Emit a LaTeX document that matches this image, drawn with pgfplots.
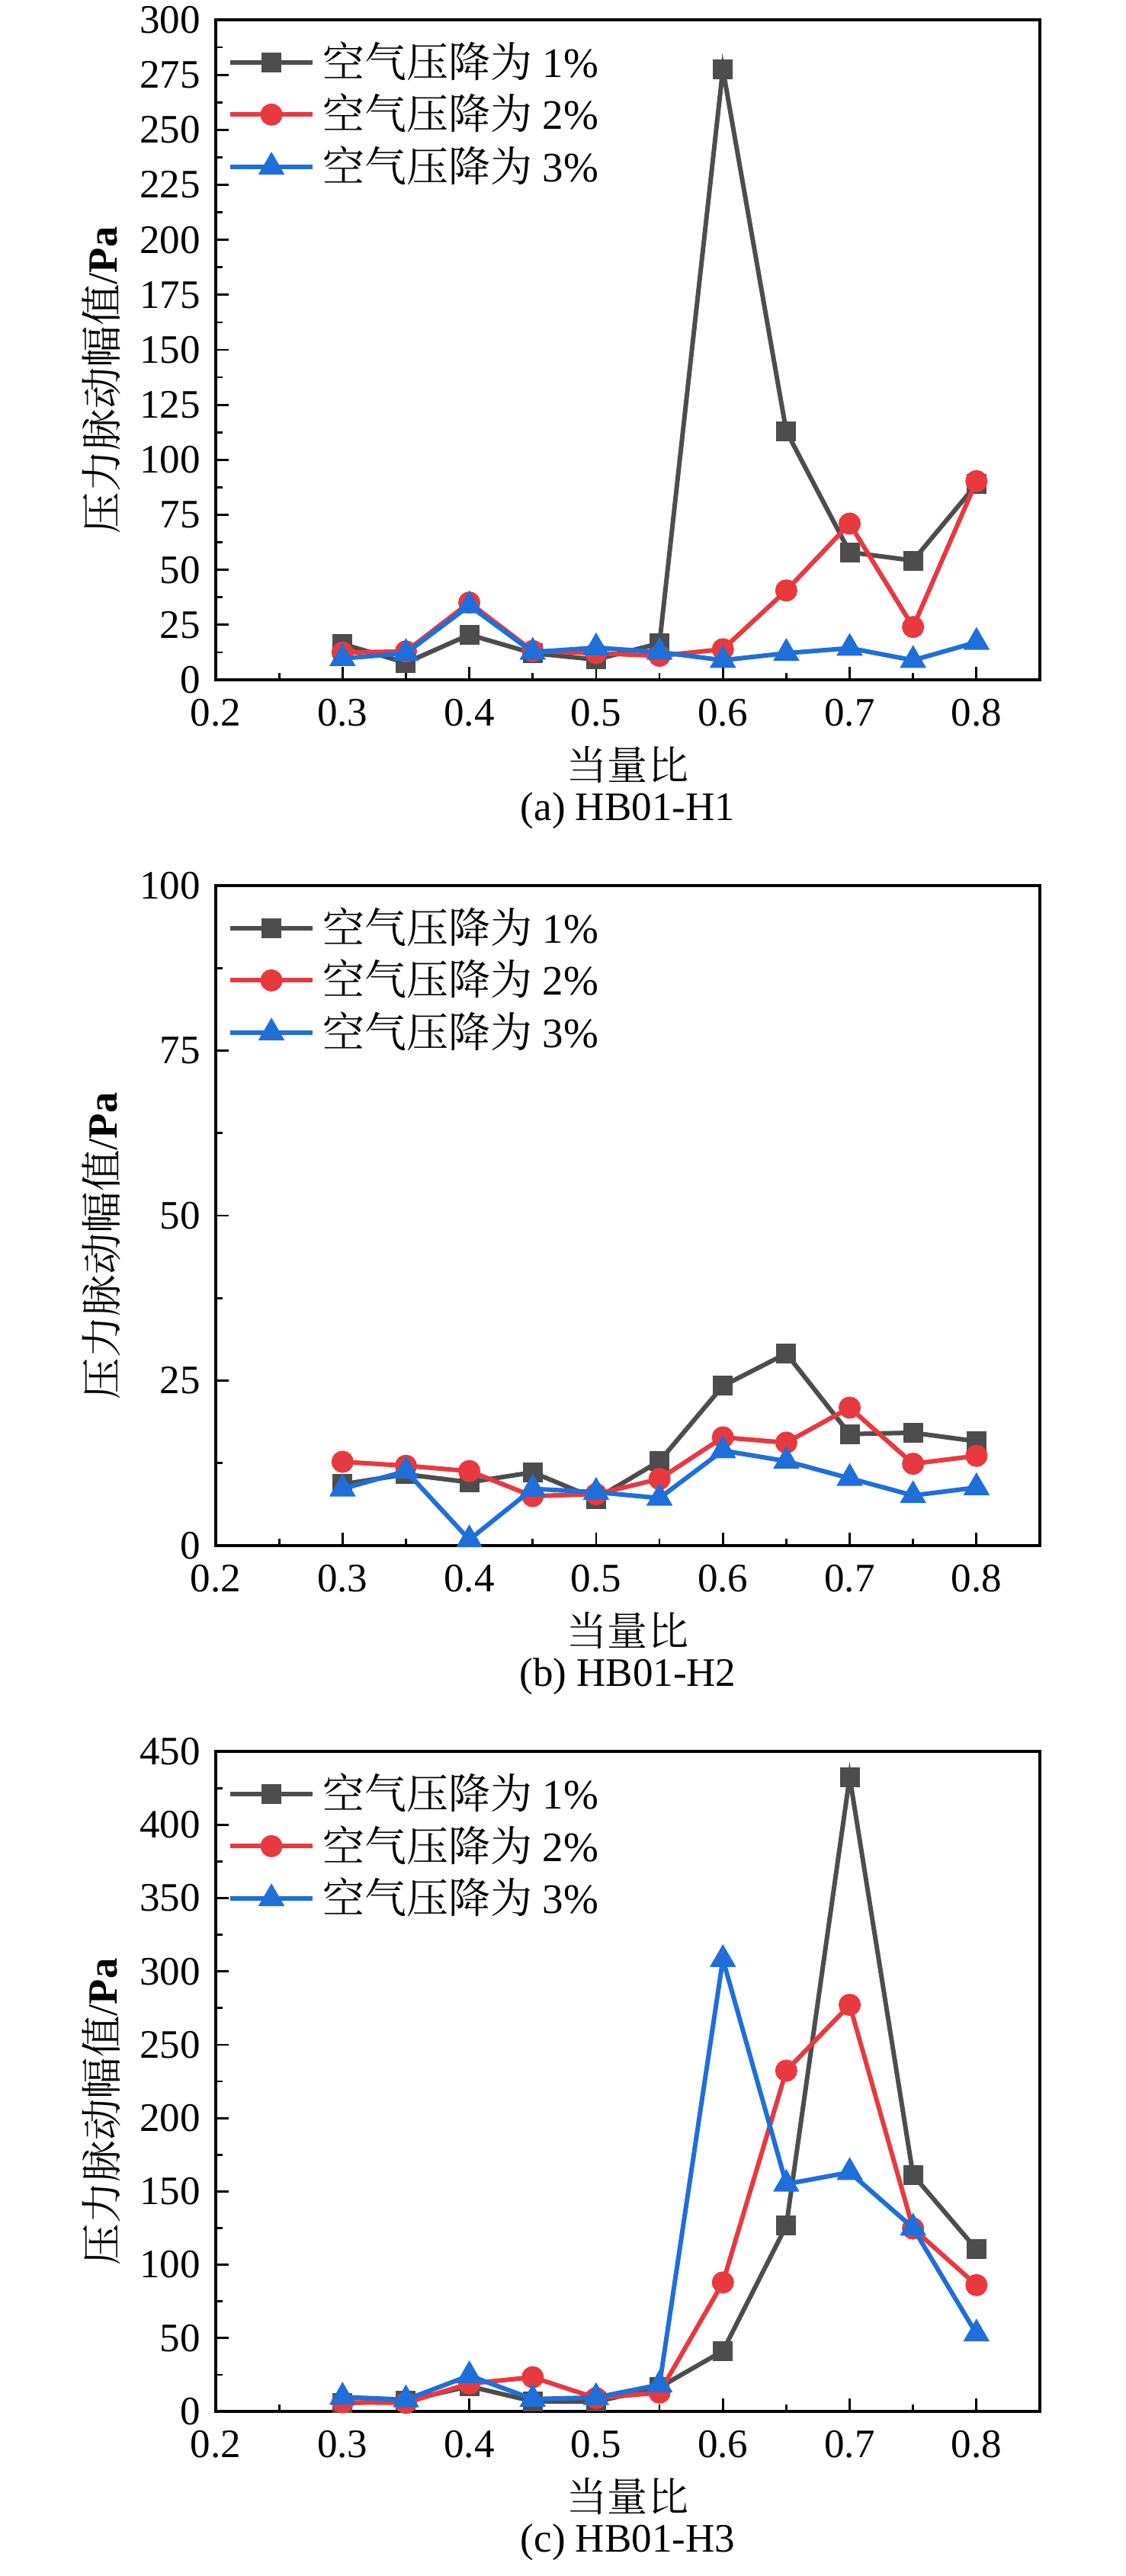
\documentclass[border=0pt]{standalone}
\usepackage{fontspec}
\setmainfont{Liberation Serif}
\newfontfamily\cjk{Noto Serif CJK SC}
\usepackage{pgfplots}
\pgfplotsset{compat=1.18}
\definecolor{cgray}{HTML}{4D4D4D}
\definecolor{cred}{HTML}{E8393F}
\definecolor{cblue}{HTML}{1E6FD9}
\newcommand{\ylab}{\node[rotate=90, anchor=center, inner sep=0pt, font=\fontsize{10.9}{12}\selectfont] at (axis description cs:-0.1388,0.4538) {{\cjk 压力脉动幅值}/\textbf{Pa}};}
\pgfplotsset{
  myax/.style={
    scale only axis, width=216.2pt, height=173.2pt,
    xmin=0.2, xmax=0.85, ymin=0, clip mode=individual,
    xtick={0.2,0.3,0.4,0.5,0.6,0.7,0.8},
    xticklabels={0.2,0.3,0.4,0.5,0.6,0.7,0.8},
    minor x tick num=1, minor y tick num=1,
    tick align=inside, xtick pos=left, ytick pos=left,
    major tick length=3.4pt, minor tick length=1.8pt,
    axis line style={line width=0.66pt},
    every tick/.style={black, line width=0.55pt},
    /pgf/number format/assume math mode=true,
    tick label style={font=\fontsize{10.6}{12}\selectfont},
    xticklabel style={yshift=-1.5pt},
    yticklabel style={xshift=-0.5pt},
    every axis x label/.style={at={(axis description cs:0.5,0)}, yshift=-22.2pt, anchor=center, inner sep=0pt, font=\fontsize{10.6}{12}\selectfont},
    xlabel={{\cjk 当量比}},
    legend style={at={(axis description cs:0,1)}, anchor=north west, draw=none, fill=none,
      xshift=2pt, yshift=-2.5pt, font=\fontsize{11}{13}\selectfont, row sep=-1.1pt,
      inner sep=1pt},
    legend cell align=left,
    legend image code/.code={\draw[mark repeat=2,mark phase=2] plot coordinates {(0cm,0cm) (0.38cm,0cm) (0.76cm,0cm)};},
  },
  s1/.style={color=cgray, line width=1.2pt, mark=square*, mark size=2pt, mark options={solid}},
  s2/.style={color=cred, line width=1.2pt, mark=*, mark size=2.3pt, mark options={solid}},
  s3/.style={color=cblue, line width=1.2pt, mark=triangle*, mark size=2.8pt, mark options={solid}},
}
\begin{document}
\begin{tikzpicture}
\path[use as bounding box] (-56.6pt,178.4pt) rectangle (238.6pt,-497.6pt);
% Panel (a)
\begin{axis}[myax, at={(0,0)}, anchor=south west, ymax=300,
  ytick={0,25,50,75,100,125,150,175,200,225,250,275,300}]
\addplot[s1] coordinates {(0.3,16.3) (0.35,7.7) (0.4,20.5) (0.45,12.1) (0.5,9.2) (0.55,16.6) (0.6,277.5) (0.65,113) (0.7,58) (0.75,54.2) (0.8,88.9)};
\addlegendentry{{\cjk 空气压降为} 1\%}
\addplot[s2] coordinates {(0.3,12.4) (0.35,12.9) (0.4,35.1) (0.45,13.1) (0.5,12.1) (0.55,10.9) (0.6,13.9) (0.65,40.6) (0.7,71) (0.75,24) (0.8,90.3)};
\addlegendentry{{\cjk 空气压降为} 2\%}
\addplot[s3] coordinates {(0.3,9.7) (0.35,12.1) (0.4,33.7) (0.45,12.6) (0.5,14.6) (0.55,12.6) (0.6,8.9) (0.65,12.1) (0.7,14.4) (0.75,8.9) (0.8,17.1)};
\addlegendentry{{\cjk 空气压降为} 3\%}
\ylab
\node[font=\fontsize{10.6}{12}\selectfont] at (axis description cs:0.5,0) [yshift=-34.4pt] {(a) HB01-H1};
\end{axis}
% Panel (b)
\begin{axis}[myax, at={(0,-227.2pt)}, anchor=south west, ymax=100,
  ytick={0,25,50,75,100}]
\addplot[s1] coordinates {(0.3,9.3) (0.35,10.8) (0.4,9.6) (0.45,11.1) (0.5,7.1) (0.55,12.8) (0.6,24.2) (0.65,29.1) (0.7,16.9) (0.75,17.1) (0.8,15.8)};
\addlegendentry{{\cjk 空气压降为} 1\%}
\addplot[s2] coordinates {(0.3,12.7) (0.35,12.1) (0.4,11.3) (0.45,7.5) (0.5,7.8) (0.55,10.1) (0.6,16.4) (0.65,15.6) (0.7,20.9) (0.75,12.4) (0.8,13.6)};
\addlegendentry{{\cjk 空气压降为} 2\%}
\addplot[s3] coordinates {(0.3,8.6) (0.35,11.3) (0.4,0.9) (0.45,8.6) (0.5,8.1) (0.55,7.2) (0.6,14.4) (0.65,12.8) (0.7,10.2) (0.75,7.6) (0.8,8.8)};
\addlegendentry{{\cjk 空气压降为} 3\%}
\ylab
\node[font=\fontsize{10.6}{12}\selectfont] at (axis description cs:0.5,0) [yshift=-34.4pt] {(b) HB01-H2};
\end{axis}
% Panel (c)
\begin{axis}[myax, at={(0,-454.4pt)}, anchor=south west, ymax=450,
  ytick={0,50,100,150,200,250,300,350,400,450}]
\addplot[s1] coordinates {(0.3,5.5) (0.35,7.3) (0.4,17.1) (0.45,6.9) (0.5,6.6) (0.55,16.4) (0.6,41.2) (0.65,126.6) (0.7,432.5) (0.75,161.2) (0.8,110.5)};
\addlegendentry{{\cjk 空气压降为} 1\%}
\addplot[s2] coordinates {(0.3,6.2) (0.35,5.8) (0.4,19) (0.45,23.3) (0.5,9.1) (0.55,12.8) (0.6,87.9) (0.65,232.3) (0.7,277.2) (0.75,124.7) (0.8,86.1)};
\addlegendentry{{\cjk 空气压降为} 2\%}
\addplot[s3] coordinates {(0.3,9.8) (0.35,8) (0.4,24.4) (0.45,8.4) (0.5,9.5) (0.55,18.2) (0.6,308.2) (0.65,155) (0.7,163) (0.75,125.1) (0.8,52.9)};
\addlegendentry{{\cjk 空气压降为} 3\%}
\ylab
\node[font=\fontsize{10.6}{12}\selectfont] at (axis description cs:0.5,0) [yshift=-34.4pt] {(c) HB01-H3};
\end{axis}
\end{tikzpicture}
\end{document}
